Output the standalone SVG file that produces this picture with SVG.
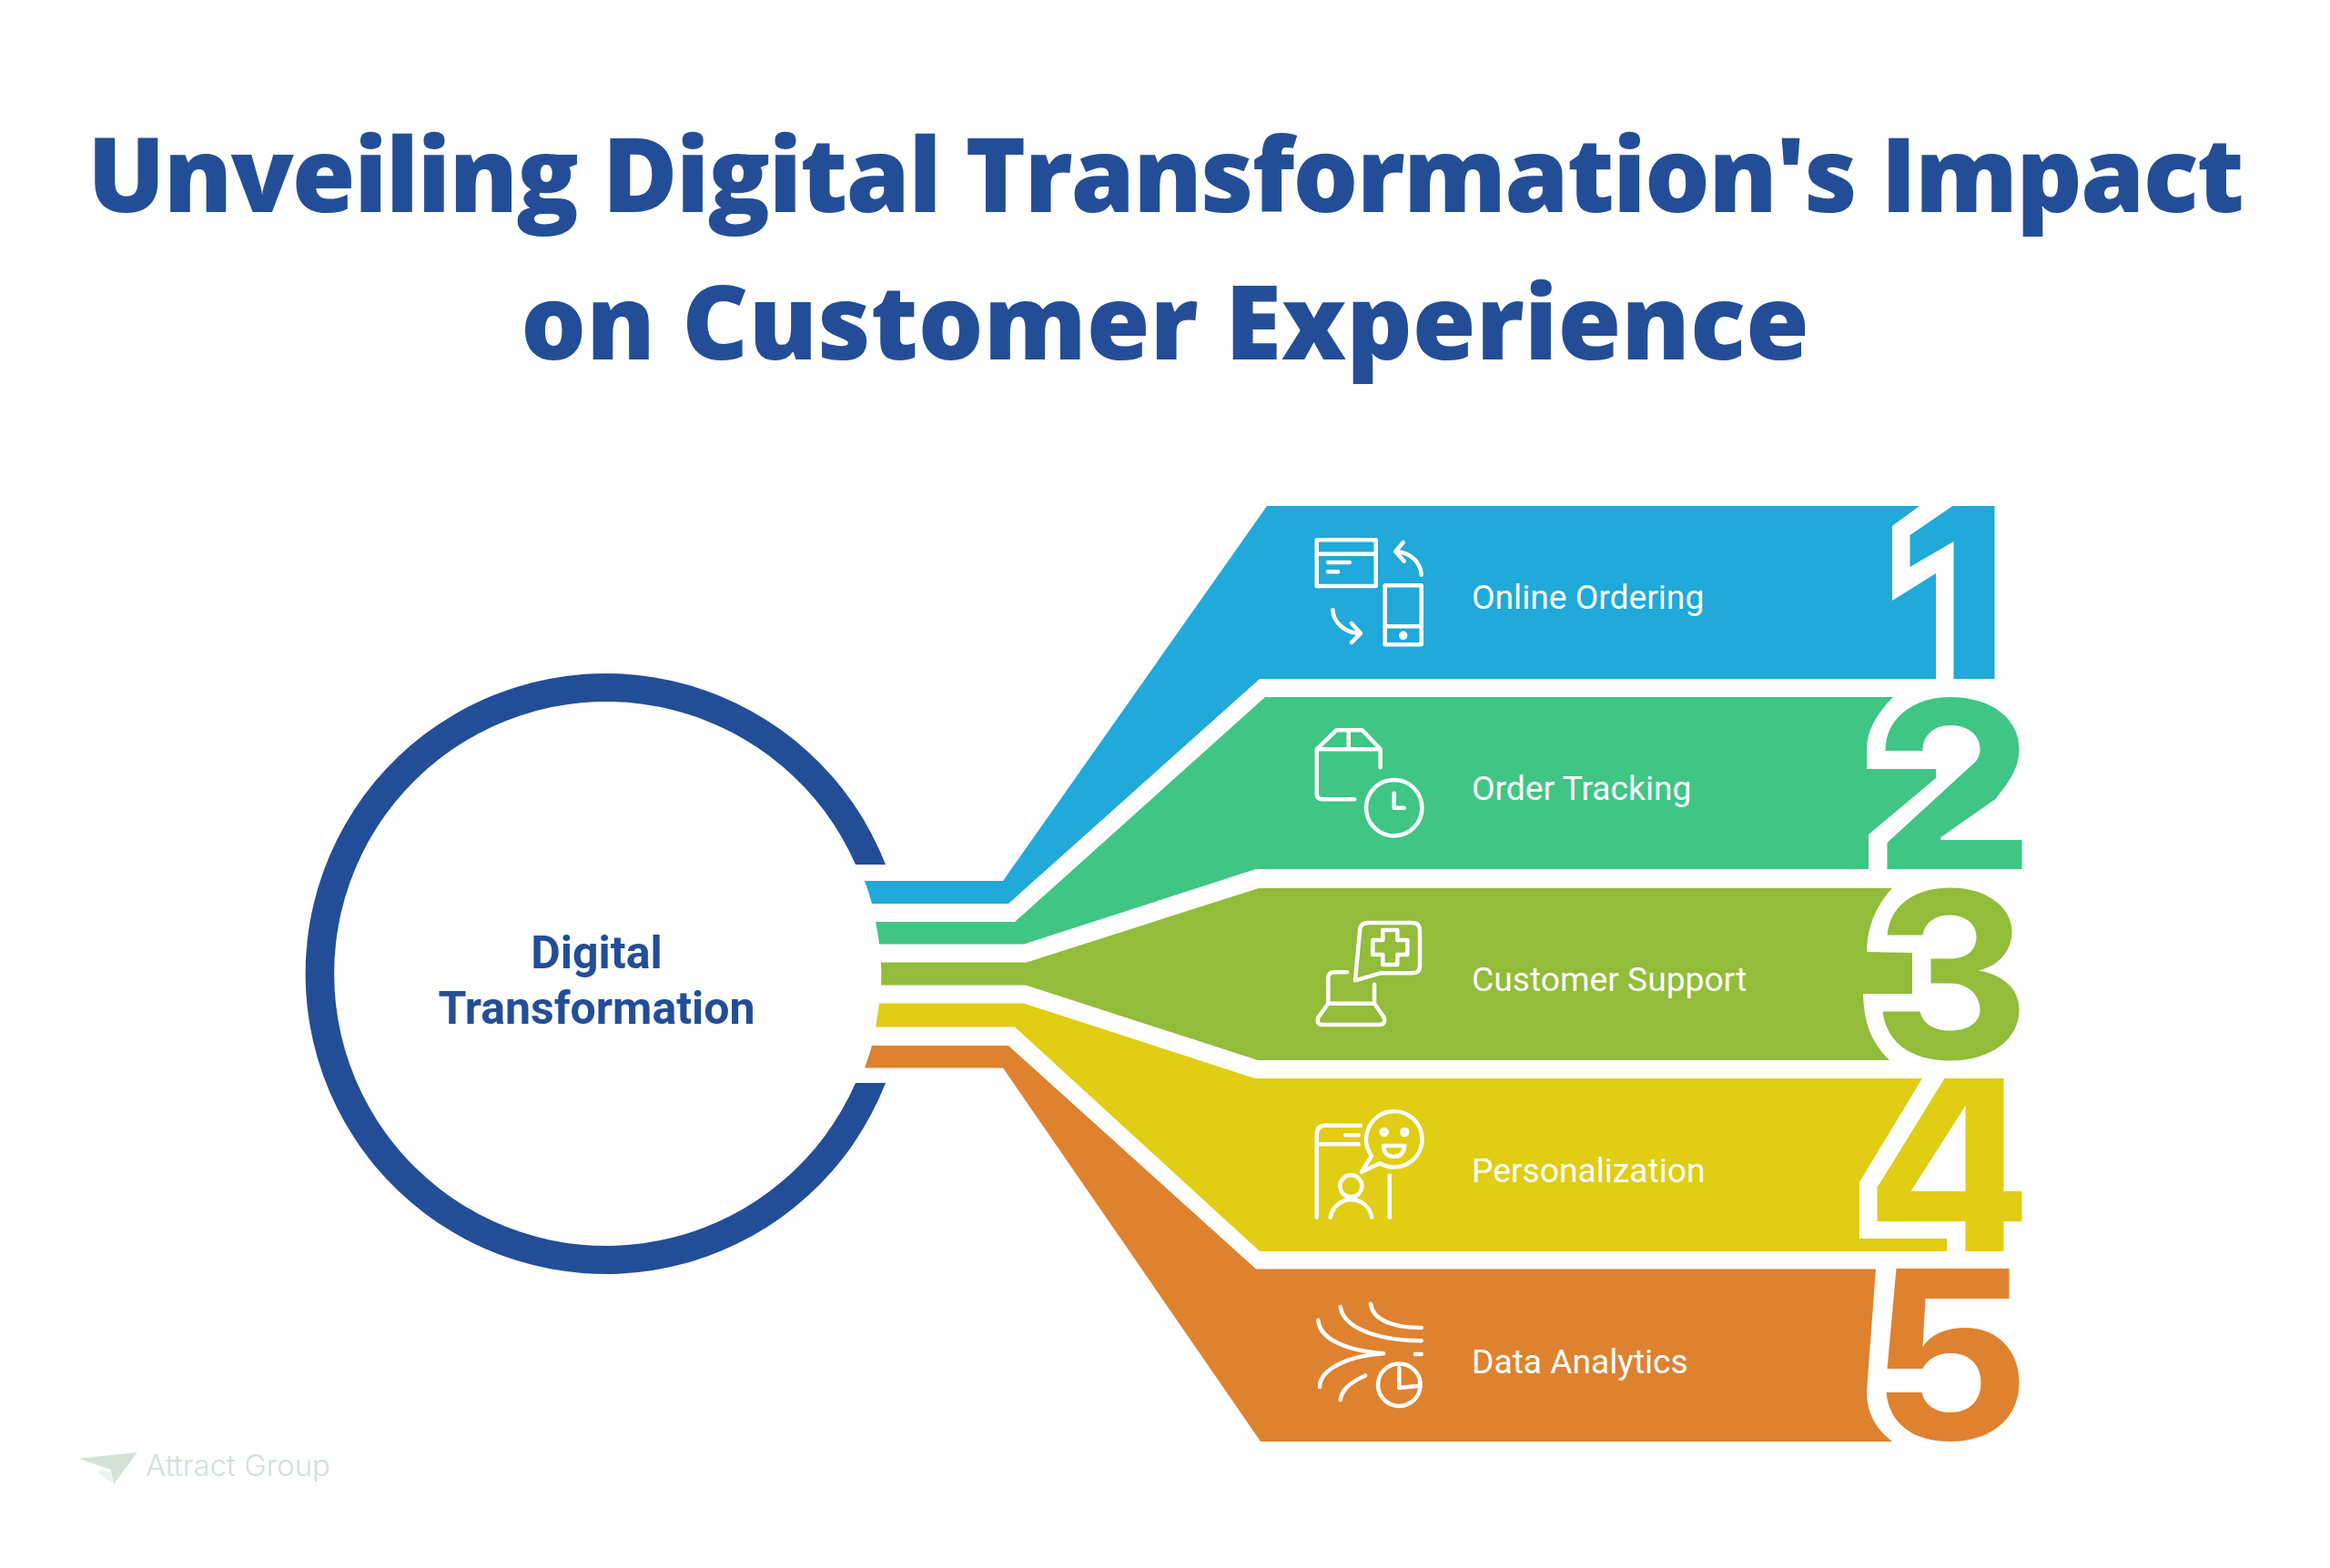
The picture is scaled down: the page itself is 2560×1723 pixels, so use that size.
<svg xmlns="http://www.w3.org/2000/svg" width="2560" height="1723" viewBox="0 0 2560 1723">
<style>
.t{font-family:"Open Sans","Liberation Sans",sans-serif;font-weight:800;font-size:113px;fill:#234e97;text-anchor:middle}
.c{font-family:Roboto,"Liberation Sans",sans-serif;font-weight:700;font-size:50px;fill:#234e97;text-anchor:middle}
.l{font-family:Roboto,"Liberation Sans",sans-serif;font-size:37.2px;fill:#fff}
.i{fill:none;stroke:#fff;stroke-width:4.5;stroke-linecap:round;stroke-linejoin:round}
.blue{fill:#20a9d9}.green{fill:#40c585}.olive{fill:#92bc3a}.yellow{fill:#e0cd14}.orange{fill:#de8230}
</style>
<rect width="2560" height="1723" fill="#fff"/>
<rect width="2560" height="1723" rx="45" fill="#fefefe"/>
<g id="title">
<text class="t" x="1280" y="233" letter-spacing="-1.8">Unveiling Digital Transformation's Impact</text>
<text class="t" x="1280" y="395">on Customer Experience</text>
</g>
<g id="hub">
<path fill="#234e97" d="M973,950A330,330 0 1 0 973,1190L940,1190A299,299 0 1 1 940,950Z"/>
<text class="c" x="655.5" y="1064">Digital</text>
<text class="c" x="655.5" y="1125">Transformation</text>
</g>
<g id="connectors"></g>
<g id="step1">
<path class="blue" d="M950,968L1102,968L1392,556L2109,556L2079,578L2079,660L2127,630L2127,746L1384,746L1108,993L958,993A302,302 0 0 0 950,968Z"/>
<path class="blue" transform="translate(-3.5,0)" d="M2149,556L2195,556L2195,746L2150,746L2150,595L2102,623L2102,588Z"/>
<g class="i">
<rect x="1446.7" y="593.3" width="65" height="50.7"/><path d="M1446.7,608.7H1511.7M1459,618H1482.7M1459,628.3H1470"/>
<rect x="1521.7" y="643.3" width="40" height="65"/><path d="M1521.7,688.3H1561.7"/><circle cx="1541.7" cy="698.3" r="2.5"/>
<path d="M1561.7,631.7C1561,618 1550,607 1533.3,606M1541.7,596L1533.3,606L1542.7,616.7"/>
<path d="M1464.3,670C1465,684 1478,696 1495,696M1485,685L1495,696L1485,706"/>
</g>
<text class="l" x="1617" y="669">Online Ordering</text>
</g>
<g id="step2">
<path class="green" d="M962,1013L1115,1013L1390,766L2080,766Q2051,795 2051,823L2051,845L2127,845L2127,855L2053,917L2053,955L1380,955L1125,1037.5L966,1037.5A302,302 0 0 0 962,1013Z"/>
<path class="green" transform="translate(-3.5,0)" d="M2077,955L2077,926L2174,837C2178,832 2179,828 2179,823C2179,807 2165,797 2146,797C2128,797 2116,808 2116,825L2075,825C2075,790 2105,766 2146,766C2192,766 2222,790 2222,823C2222,845 2210,860 2196,878L2136,920L2136,923L2225,923L2225,955Z"/>
<g class="i">
<path d="M1516.7,843.3V823.3L1496.7,802.3H1468.3L1446.7,823.3V871.7Q1446.7,878.3 1453,878.3H1488.3M1446.7,823.3H1516.7M1481.7,802.3V823.3"/>
<circle cx="1531.7" cy="887.7" r="30.7"/><path d="M1531.7,871.7V887.7H1542.7"/>
</g>
<text class="l" x="1617" y="879">Order Tracking</text>
</g>
<g id="step3">
<path class="olive" d="M968,1057.5L1128,1057.5L1383,976L2079,976C2061,995 2051,1020 2051,1046L2101,1047L2101,1092L2047,1092C2048,1125 2056,1145 2076,1165L1382,1165L1127,1082.5L968,1082.5A302,302 0 0 0 968,1057.5Z"/>
<path class="olive" transform="translate(-3.5,-0.5)" d="M2077,1028C2080,995 2108,976 2146,976C2187,976 2214,998 2214,1024C2214,1045 2200,1062 2177,1067C2205,1072 2222,1087 2222,1110C2222,1143 2190,1166 2146,1166C2102,1166 2076,1145 2072,1112L2113,1112C2116,1125 2128,1133 2146,1133C2166,1133 2179,1124 2179,1110C2179,1094 2166,1081 2146,1081L2125,1081L2125,1054L2146,1054C2164,1054 2175,1045 2175,1030C2175,1016 2163,1006 2146,1006C2129,1006 2118,1015 2116,1028Z"/>
<g class="i">
<path d="M1489,1077.3L1494,1023Q1494,1014 1503.3,1014H1551.7Q1560,1014 1560,1023.3V1061.7Q1560,1069.3 1551.7,1069.3H1516.7Z"/>
<path d="M1519.3,1022H1535.3V1033H1546.3V1049H1535.3V1060H1519.3V1049H1508.3V1033H1519.3Z"/>
<path d="M1480,1068.3H1466Q1459.3,1068.3 1459.3,1075V1102.7H1510V1081.7M1459.3,1102.7L1448.3,1118Q1446,1126 1453,1126H1515Q1523,1126 1520.7,1118L1510,1102.7"/>
</g>
<text class="l" x="1617" y="1089">Customer Support</text>
</g>
<g id="step4">
<path class="yellow" d="M966,1102.5L1124.5,1102.5L1379,1185L2112,1185L2043,1299L2043,1361L2139,1361L2139,1375L1384,1375L1115,1128.5L962,1128.5A302,302 0 0 0 966,1102.5Z"/>
<path class="yellow" fill-rule="evenodd" transform="translate(-3.5,-1)" d="M2140,1186L2205,1186L2205,1310L2225,1310L2225,1343L2205,1343L2205,1376L2163,1376L2163,1343L2066,1343L2066,1306ZM2163,1216L2103,1310L2163,1310Z"/>
<g class="i">
<path d="M1507,1270A30.7,30.7 0 1 1 1516,1278.2L1496,1287.7Z"/>
<circle cx="1520.7" cy="1244" r="3"/><circle cx="1543.3" cy="1244" r="3"/>
<path d="M1520,1259H1543.3Q1542,1271 1531.7,1271Q1521,1271 1520,1259Z"/>
<path d="M1495,1236.7H1456Q1446.7,1236.7 1446.7,1246.7V1337.7M1446.7,1257.3H1492.7M1478.3,1247.3H1492.7M1526.7,1291.7V1337.7"/>
<circle cx="1484.3" cy="1303.3" r="12"/><path d="M1461.7,1337.7C1464,1326 1473,1318.3 1484.5,1318.3C1496,1318.3 1505,1326 1507.3,1337.7"/>
</g>
<text class="l" x="1617" y="1299">Personalization</text>
</g>
<g id="step5">
<path class="orange" d="M958,1149L1108,1149L1380,1394.5L2061,1394.5L2051,1529C2051,1553 2061,1570 2079,1584L1385,1584L1102,1173.5L950,1173.5A302,302 0 0 0 958,1149Z"/>
<path class="orange" transform="translate(-3.5,-2)" d="M2087,1396L2211,1396L2211,1429L2119,1429L2116,1482C2125,1468 2142,1461 2163,1461C2198,1461 2222,1486 2222,1521C2222,1560 2192,1586 2146,1586C2105,1586 2079,1566 2076,1532L2115,1532C2118,1546 2130,1554 2147,1554C2167,1554 2180,1541 2180,1521C2180,1502 2167,1489 2147,1489C2132,1489 2122,1495 2116,1506L2077,1506Z"/>
<g class="i">
<path d="M1506,1432.7C1508,1450 1530,1459 1561.7,1459M1472.7,1436C1476,1458 1510,1473 1561.7,1473.3M1448.3,1450.7C1450,1472 1480,1484 1520,1487.3C1480,1490 1450,1505 1450,1524M1500,1511.7C1485,1518 1474,1527 1472.7,1538.3M1555,1488H1561.7"/>
<circle cx="1537.3" cy="1521.7" r="23.3"/><path d="M1537.3,1503.3V1525L1560,1522.7"/>
</g>
<text class="l" x="1617" y="1509">Data Analytics</text>
</g>
<g id="watermark">
<path fill="#eef3ef" d="M106,1617L121,1616L124,1630Z"/>
<path fill="#d3e1d6" d="M86.7,1602.7L150.7,1596L125,1630.7L121.7,1615Z"/>
<text x="160" y="1622" font-family="Inter,'Liberation Sans',sans-serif" font-weight="300" font-size="33" fill="#d3e1d6">Attract Group</text>
</g>
</svg>
